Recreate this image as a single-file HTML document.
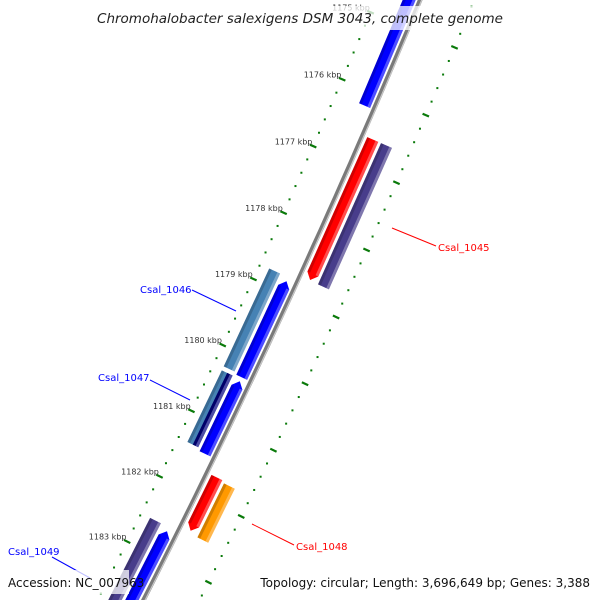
<!DOCTYPE html>
<html><head><meta charset="utf-8">
<style>
html,body{margin:0;padding:0;background:#fff;overflow:hidden;}
svg{display:block;}
text{font-family:"DejaVu Sans","Liberation Sans",sans-serif;}
</style></head>
<body>
<svg id="map" width="600" height="600" viewBox="0 0 600 600" xmlns="http://www.w3.org/2000/svg">
<g id="ticks"></g>
<g id="backbone"></g>
<g id="features"></g>
<g id="labels"></g>
<g id="overlay"></g>
</svg>
<script>
// ---- data ----
const featStart = [1174300, 1178840, 1180350, 1182630, 1178780, 1180320, 1180320, 1182570, 1176590, 1176590, 1181670, 1181700];
const featEnd   = [1176210, 1180290, 1181450, 1184800, 1180260, 1181410, 1181410, 1184800, 1178690, 1178700, 1182480, 1182520];
const featLane  = [-1, -1, -1, -1, -2, -2, -2.5, -2, 1, 2, 1, 2];
const featColor = ['#0000ff','#0000ff','#0000ff','#0000ff','#4682b4','#4682b4','#000080','#483d8b','#ff0000','#483d8b','#ff0000','#ff9900'];
const featArrow = ['start','start','start','start','none','none','none','none','end','none','end','none'];
const tickKbp = [1175, 1176, 1177, 1178, 1179, 1180, 1181, 1182, 1183];
const geneNames = ['Csal_1045','Csal_1046','Csal_1047','Csal_1048','Csal_1049'];
const geneColors = ['#ff0000','#0000ff','#0000ff','#ff0000','#0000ff'];
const geneLineFrom = [[392,228],[192,290],[150,380],[252,524],[52,557]];
const geneLineTo = [[436,246],[236,311],[190,400],[294,545],[90,578]];
const geneTextPos = [[438,251],[140,293],[98,381],[296,550],[8,555]];

// ---- geometry (circular map scale) ----
const R = 8540, CX = -7468, CY = -3272.5, B0 = 1179000, TH0 = 24.7*Math.PI/180, K = 0.00857/1000;
function P(bp, r){ const t = TH0 + (bp-B0)*K; return [CX+(R+r)*Math.cos(t), CY+(R+r)*Math.sin(t)]; }
const NS='http://www.w3.org/2000/svg';
function mk(tag, parent){ const e=document.createElementNS(NS,tag); parent.appendChild(e); return e; }
function pts(a){ return a.map(p=>p[0].toFixed(1)+','+p[1].toFixed(1)).join(' '); }

// backbone
const bb = document.getElementById('backbone');
let d=''; for(let b=1174000;b<=1185000;b+=250){const p=P(b,0);d+=(d?'L':'M')+p[0].toFixed(1)+' '+p[1].toFixed(1);}
let bl = mk('path', bb); bl.setAttribute('d', d); bl.setAttribute('stroke','#7a7a7a'); bl.setAttribute('stroke-width','4.5'); bl.setAttribute('fill','none');


let d2=''; for(let b=1174000;b<=1185000;b+=250){const p=P(b,1.5);d2+=(d2?'L':'M')+p[0].toFixed(1)+' '+p[1].toFixed(1);}
let bh = mk('path', bb); bh.setAttribute('d', d2); bh.setAttribute('stroke','#c8c8c8'); bh.setAttribute('stroke-width','1.2'); bh.setAttribute('fill','none');



// ticks
const tg = document.getElementById('ticks');
[-41, 50].forEach(function(r){
  for(let b=1174000;b<=1185000;b+=200){
    if(b%1000===0){
      const a=P(b,r-3.5), c=P(b,r+3.5);
      const l=mk('line',tg); l.setAttribute('x1',a[0]);l.setAttribute('y1',a[1]);l.setAttribute('x2',c[0]);l.setAttribute('y2',c[1]);
      l.setAttribute('stroke','#0a7a0a'); l.setAttribute('stroke-width','2.2');
      
      
    } else {
      const a=P(b,r);
      const c=mk('rect',tg); c.setAttribute('x',a[0]-1);c.setAttribute('y',a[1]-1);c.setAttribute('width',2);c.setAttribute('height',2);c.setAttribute('fill','#0a7a0a');
      
      
    }
  }
});
tickKbp.forEach(function(k){
  const p=P(k*1000,-44);
  const t=mk('text',tg); t.setAttribute('x',p[0]+2); t.setAttribute('y',p[1]-0.5); t.setAttribute('text-anchor','end');
  t.setAttribute('font-size','8'); t.setAttribute('fill','#333'); t.textContent=k+' kbp';
  
  
});

// features
const fg=document.getElementById('features');
for(let i=0;i<featStart.length;i++){
  let lane=featLane[i], r0, r1;
  if(lane===-1){r0=-16;r1=-4;} else if(lane===-2){r0=-31;r1=-19;} else if(lane===-2.5){r0=-25;r1=-19;}
  else if(lane===1){r0=5;r1=17;} else {r0=20;r1=32;}
  const s=featStart[i], e=featEnd[i], al=90, mid=(r0+r1)/2;
  let poly;
  if(featArrow[i]==='start'){ poly=[P(s+al,r0),P(s,mid),P(s+al,r1),P(e,r1),P(e,r0)]; }
  else if(featArrow[i]==='end'){ poly=[P(s,r0),P(s,r1),P(e-al,r1),P(e,mid),P(e-al,r0)]; }
  else { poly=[P(s,r0),P(s,r1),P(e,r1),P(e,r0)]; }
  const g=mk('polygon',fg); g.setAttribute('points',pts(poly)); g.setAttribute('fill',featColor[i]);
  
  
  const hs=[P(s+(featArrow[i]==='start'?al:0),r1-3),P(s+(featArrow[i]==='start'?al:0),r1),P(e-(featArrow[i]==='end'?al:0),r1),P(e-(featArrow[i]==='end'?al:0),r1-3)];
  const h=mk('polygon',fg); h.setAttribute('points',pts(hs)); h.setAttribute('fill','#ffffff'); h.setAttribute('fill-opacity','0.3');
  
  
  const ds=[P(s+(featArrow[i]==='start'?al:0),r0),P(s+(featArrow[i]==='start'?al:0),r0+3),P(e-(featArrow[i]==='end'?al:0),r0+3),P(e-(featArrow[i]==='end'?al:0),r0)];
  const dk=mk('polygon',fg); dk.setAttribute('points',pts(ds)); dk.setAttribute('fill','#000000'); dk.setAttribute('fill-opacity','0.18');
  
  
}

// gene labels
const lg=document.getElementById('labels');
for(let i=0;i<geneNames.length;i++){
  const l=mk('line',lg); l.setAttribute('x1',geneLineFrom[i][0]);l.setAttribute('y1',geneLineFrom[i][1]);l.setAttribute('x2',geneLineTo[i][0]);l.setAttribute('y2',geneLineTo[i][1]);
  l.setAttribute('stroke',geneColors[i]); l.setAttribute('stroke-width','1');
  
  
  const t=mk('text',lg); t.setAttribute('x',geneTextPos[i][0]); t.setAttribute('y',geneTextPos[i][1]); t.setAttribute('font-size','10');
  t.setAttribute('fill',geneColors[i]); t.textContent=geneNames[i];
  
  
}
</script>
<script>
(function(){
  const NS='http://www.w3.org/2000/svg', o=document.getElementById('overlay');
  function mk(tag){const e=document.createElementNS(NS,tag);o.appendChild(e);return e;}
  const tb=mk('rect'); tb.setAttribute('x',92);tb.setAttribute('y',6);tb.setAttribute('width',416);tb.setAttribute('height',24);tb.setAttribute('fill','#fff');tb.setAttribute('fill-opacity','0.75');
  
  
  const t=mk('text'); t.setAttribute('x',300);t.setAttribute('y',23);t.setAttribute('text-anchor','middle');t.setAttribute('font-size','13.5');t.setAttribute('font-style','italic');t.setAttribute('fill','#222');
  t.textContent='Chromohalobacter salexigens DSM 3043, complete genome';
  
  
  const ab=mk('rect'); ab.setAttribute('x',5);ab.setAttribute('y',570);ab.setAttribute('width',124);ab.setAttribute('height',24);ab.setAttribute('fill','#fff');ab.setAttribute('fill-opacity','0.75');
  
  
  const a=mk('text'); a.setAttribute('x',8);a.setAttribute('y',587);a.setAttribute('font-size','12');a.setAttribute('fill','#111');a.textContent='Accession: NC_007963';
  
  
  const g=mk('text'); g.setAttribute('x',590);g.setAttribute('y',587);g.setAttribute('text-anchor','end');g.setAttribute('font-size','12');g.setAttribute('fill','#111');
  g.textContent='Topology: circular; Length: 3,696,649 bp; Genes: 3,388';
  
  
})();
</script>
</body></html>
